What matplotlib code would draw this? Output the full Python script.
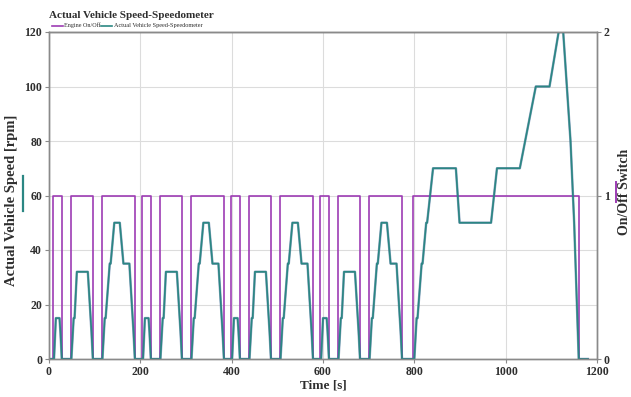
import matplotlib
matplotlib.use("Agg")
import matplotlib.pyplot as plt
from matplotlib.lines import Line2D

# Vehicle speed over the drive cycle (time in s, speed in km/h as labelled)
time_s = [
    0, 11, 15, 23, 25, 28, 49, 54, 56, 61, 85, 93, 96, 117, 122, 124, 133, 135, 143, 155, 163, 176, 185, 188,
    195, 206, 210, 218, 220, 223, 244, 249, 251, 256, 280, 288, 291, 312, 317, 319, 328, 330, 338, 350, 358, 371, 380, 383,
    390, 401, 405, 413, 415, 418, 439, 444, 446, 451, 475, 483, 486, 507, 512, 514, 523, 525, 533, 545, 553, 566, 575, 578,
    585, 596, 600, 608, 610, 613, 634, 639, 641, 646, 670, 678, 681, 702, 707, 709, 718, 720, 728, 740, 748, 761, 770, 773,
    780, 800, 805, 807, 816, 818, 826, 828, 841, 891, 899, 968, 981, 1031, 1066, 1096, 1116, 1126, 1142, 1150, 1160, 1180,
]
speed = [
    0, 0, 15, 15, 10, 0, 0, 15, 15, 32, 32, 10, 0, 0, 15, 15, 35, 35, 50, 50, 35, 35, 10, 0,
    0, 0, 15, 15, 10, 0, 0, 15, 15, 32, 32, 10, 0, 0, 15, 15, 35, 35, 50, 50, 35, 35, 10, 0,
    0, 0, 15, 15, 10, 0, 0, 15, 15, 32, 32, 10, 0, 0, 15, 15, 35, 35, 50, 50, 35, 35, 10, 0,
    0, 0, 15, 15, 10, 0, 0, 15, 15, 32, 32, 10, 0, 0, 15, 15, 35, 35, 50, 50, 35, 35, 10, 0,
    0, 0, 15, 15, 35, 35, 50, 50, 70, 70, 50, 50, 70, 70, 100, 100, 120, 120, 80, 50, 0, 0,
]

# Engine on/off switch: state holds from each time until the next one
switch_time = [0, 9, 28, 48, 96, 116, 188, 204, 223, 243, 291, 311, 383, 399, 418, 438, 486, 506,
               578, 594, 613, 633, 681, 701, 773, 798, 1160, 1180]
switch_state = [0, 1, 0, 1, 0, 1, 0, 1, 0, 1, 0, 1, 0, 1, 0, 1, 0, 1,
                0, 1, 0, 1, 0, 1, 0, 1, 0, 0]

x_ticks = [0, 200, 400, 600, 800, 1000, 1200]
y_ticks = [0, 20, 40, 60, 80, 100, 120]
y2_ticks = [0, 1, 2]

PURPLE = "#9d3cb4"
TEAL = "#2b8783"
TEXT = "#2e2e2e"
SERIF = ["Liberation Serif", "DejaVu Serif"]

W, H = 631, 397
fig = plt.figure(figsize=(W / 100, H / 100), dpi=100)
ax = fig.add_axes([49 / W, 1 - 359 / H, 548 / W, 327 / H])
ax2 = ax.twinx()

ax.set_xlim(0, 1200)
ax.set_ylim(0, 120)
ax2.set_ylim(0, 2)
ax.set_xticks(x_ticks)
ax.set_yticks(y_ticks)
ax2.set_yticks(y2_ticks)

ax.grid(True, color="#dcdcdc", linewidth=0.8)
ax.set_axisbelow(True)

# switch trace on the right scale, speed drawn above it on the left scale
ax2.step(switch_time, switch_state, where="post", color=PURPLE, linewidth=1.2)
ax2.plot(time_s, speed, color="#3a5f95", linewidth=1.8, transform=ax.transData, alpha=0.55)
ax2.plot(time_s, speed, color=TEAL, linewidth=1.2, transform=ax.transData)

for a in (ax, ax2):
    for s in a.spines.values():
        s.set_color("#8a8a8a")
        s.set_linewidth(1.0)
ax.spines["top"].set_color("#555555")

for lab in ax.get_xticklabels() + ax.get_yticklabels() + ax2.get_yticklabels():
    lab.set_fontfamily(SERIF)
    lab.set_fontweight("bold")
    lab.set_fontsize(8.5)
    lab.set_color(TEXT)
ax.tick_params(axis="both", length=3, width=0.8, color="#8a8a8a", pad=2)
ax2.tick_params(axis="y", length=3, width=0.8, color="#8a8a8a", pad=2)

# axis titles placed in pixel positions of the figure
def px_text(x, y, s, **kw):
    fig.text(x / W, 1 - y / H, s, fontfamily=SERIF, color=TEXT, **kw)

px_text(323, 385, "Time [s]", fontweight="bold", fontsize=9.5, ha="center", va="center")
px_text(12, 200, "Actual Vehicle Speed [rpm]", fontweight="bold", fontsize=10.5,
        rotation=90, ha="center", va="center")
px_text(624, 192, "On/Off Switch", fontweight="bold", fontsize=10,
        rotation=90, ha="center", va="center")

# small colour keys beside the axis titles
def px_line(x0, y0, x1, y1, color, lw):
    fig.add_artist(Line2D([x0 / W, x1 / W], [1 - y0 / H, 1 - y1 / H],
                          transform=fig.transFigure, color=color, linewidth=lw))

px_line(22.5, 176, 22.5, 211, TEAL, 1.6)
px_line(615.5, 182, 615.5, 202, PURPLE, 1.4)

# title and compact legend above the plot
px_text(49, 18, "Actual Vehicle Speed-Speedometer", fontweight="bold", fontsize=8,
        va="baseline")
px_line(52, 25.5, 63, 25.5, PURPLE, 1.2)
px_text(64, 27.5, "Engine On/Off", fontsize=4.4, va="baseline")
px_line(101, 25.5, 112, 25.5, TEAL, 1.2)
px_text(113.5, 27.5, "Actual Vehicle Speed-Speedometer", fontsize=4.5, va="baseline")

fig.savefig("out.png", dpi=100, facecolor="white")
